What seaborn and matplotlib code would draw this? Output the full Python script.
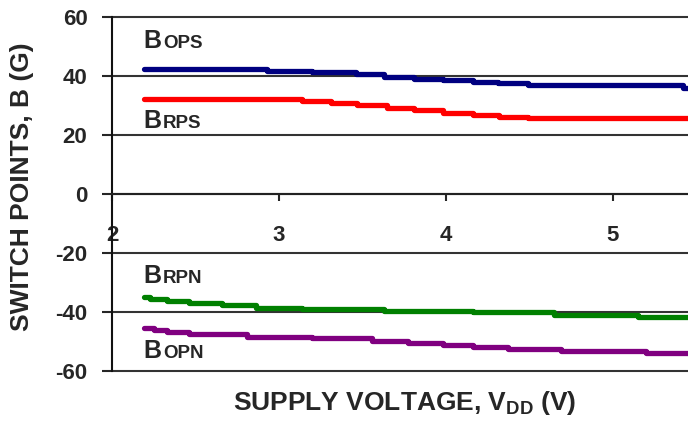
import numpy as np
import pandas as pd
import matplotlib
matplotlib.use("Agg")
import matplotlib.pyplot as plt
import matplotlib.transforms as mtransforms
import seaborn as sns

# step curves (x = supply voltage, y = field in gauss)
bops_x = [2.19, 2.93, 3.20, 3.46, 3.63, 3.81, 3.98, 4.16, 4.31, 4.49, 5.42, 5.45]
bops_y = [42.5, 41.8, 41.3, 40.6, 39.8, 39.1, 38.5, 38.0, 37.6, 36.8, 36.0, 36.0]

brps_x = [2.19, 3.14, 3.31, 3.47, 3.65, 3.81, 3.98, 4.16, 4.32, 4.49, 5.45]
brps_y = [32.1, 31.5, 31.0, 30.1, 29.3, 28.4, 27.6, 26.8, 26.1, 25.6, 25.6]

brpn_x = [2.19, 2.23, 2.33, 2.46, 2.66, 2.86, 3.14, 3.63, 4.16, 4.65, 5.15, 5.45]
brpn_y = [-34.9, -35.7, -36.3, -36.8, -37.6, -38.5, -39.1, -39.7, -40.1, -41.0, -41.7, -41.7]

bopn_x = [2.19, 2.25, 2.33, 2.46, 2.81, 3.20, 3.56, 3.77, 3.98, 4.16, 4.37, 4.69, 5.20, 5.45]
bopn_y = [-45.3, -46.1, -46.7, -47.6, -48.4, -48.9, -49.8, -50.6, -51.3, -52.0, -52.7, -53.2, -53.8, -53.8]

series_names = ["BOPS", "BRPS", "BRPN", "BOPN"]
x_ticks = [2, 3, 4, 5]
y_ticks = [-60, -40, -20, 0, 20, 40, 60]

frames = []
for name, xs, ys in zip(series_names,
                        [bops_x, brps_x, brpn_x, bopn_x],
                        [bops_y, brps_y, brpn_y, bopn_y]):
    frames.append(pd.DataFrame({"vdd": xs, "b": ys, "series": name}))
df = pd.concat(frames, ignore_index=True)

palette = {"BOPS": "#000080", "BRPS": "#ff0000", "BRPN": "#008000", "BOPN": "#800080"}

sns.set_style("white")
plt.rcParams["font.family"] = ["Liberation Sans", "DejaVu Sans"]
plt.rcParams["mathtext.fontset"] = "custom"
plt.rcParams["mathtext.rm"] = "Liberation Sans"
plt.rcParams["mathtext.bf"] = "Liberation Sans:bold"

fig = plt.figure(figsize=(6.88, 4.21), dpi=100)
ax = fig.add_axes([112 / 688, 1 - 371 / 421, 1 - 112 / 688, 354 / 421])

sns.lineplot(data=df, x="vdd", y="b", hue="series", palette=palette,
             estimator=None, sort=False, legend=False, ax=ax,
             drawstyle="steps-post", linewidth=3.8, zorder=3)

ax.set_xlim(2, 5.45)
ax.set_ylim(-60, 60)
ax.set_xticks(x_ticks)
ax.set_yticks(y_ticks)
ax.set_yticklabels([str(v) for v in y_ticks])

for side in ["top", "right"]:
    ax.spines[side].set_visible(False)
ax.spines["bottom"].set_position(("data", 0))
ax.spines["bottom"].set_linewidth(1.5)
ax.spines["left"].set_linewidth(1.5)
ax.spines["bottom"].set_color("#222222")
ax.spines["left"].set_color("#111111")

ax.grid(axis="y", color="#333333", linewidth=1.5)
ax.grid(axis="x", visible=False)
for gl in ax.get_ygridlines():
    gl.set_clip_on(False)

ax.tick_params(axis="y", direction="out", length=7.2, width=1.5, pad=10.5,
               labelsize=16, left=True)
ax.tick_params(axis="x", direction="out", length=5, width=1.5, pad=17,
               labelsize=16, bottom=True)
for lab in ax.get_xticklabels() + ax.get_yticklabels():
    lab.set_fontweight("bold")

ax.set_xlabel(r"SUPPLY VOLTAGE, V$_\mathbf{DD}$ (V)", fontsize=19, fontweight="bold")
ax.xaxis.set_label_coords(0.509, -0.052)
ax.set_ylabel("SWITCH POINTS, B (G)", fontsize=19, fontweight="bold")
ax.yaxis.set_label_coords(-0.135, 0.52)

# series names in small caps style
def small_caps(x, y, head, tail):
    ax.text(x, y, head, fontsize=18, fontweight="bold", va="baseline", ha="left", zorder=4)
    tr = mtransforms.offset_copy(ax.transData, fig=fig, x=13.8, y=0, units="points")
    ax.text(x, y, tail, fontsize=13.5, fontweight="bold", va="baseline", ha="left",
            transform=tr, zorder=4)

small_caps(2.19, 49.5, "B", "OPS")
small_caps(2.19, 22.4, "B", "RPS")
small_caps(2.19, -30.2, "B", "RPN")
small_caps(2.19, -55.6, "B", "OPN")

fig.savefig("out.png", dpi=100)
